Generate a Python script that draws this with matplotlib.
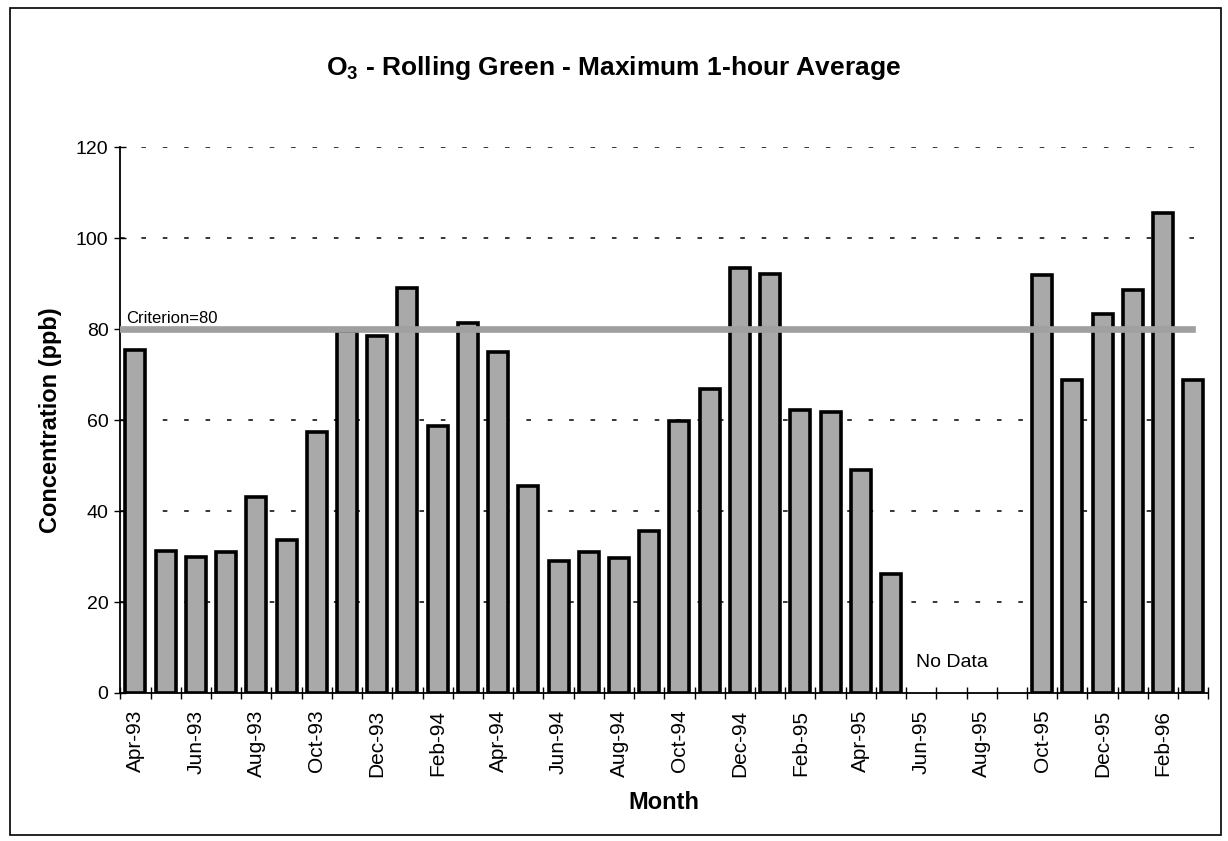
"""
O3 Rolling Green - monthly maximum 1-hour average bar chart.
"""
import matplotlib
matplotlib.use("Agg")
import matplotlib.pyplot as plt
import matplotlib.patches as mpatches
import numpy as np

plt.rcParams["font.family"] = ["Liberation Sans", "DejaVu Sans"]
plt.rcParams["mathtext.fontset"] = "custom"
plt.rcParams["mathtext.rm"] = "Liberation Sans:bold"
plt.rcParams["mathtext.bf"] = "Liberation Sans:bold"

# ── Data ───────────────────────────────────────────────────────────────────────
months = [
    "Apr-93", "May-93", "Jun-93", "Jul-93", "Aug-93", "Sep-93", "Oct-93",
    "Nov-93", "Dec-93", "Jan-94", "Feb-94", "Mar-94", "Apr-94", "May-94",
    "Jun-94", "Jul-94", "Aug-94", "Sep-94", "Oct-94", "Nov-94", "Dec-94",
    "Jan-95", "Feb-95", "Mar-95", "Apr-95", "May-95", "Jun-95", "Jul-95",
    "Aug-95", "Sep-95", "Oct-95", "Nov-95", "Dec-95", "Jan-96", "Feb-96",
    "Mar-96",
]
# NaN = no data (Jun-95 .. Sep-95)
o3_max = [
    75.4, 31.3, 30.0, 30.9, 43.1, 33.6, 57.4,
    79.5, 78.5, 89.1, 58.7, 81.4, 74.9, 45.6,
    29.0, 31.0, 29.6, 35.7, 59.8, 66.9, 93.5,
    92.1, 62.3, 61.8, 49.0, 26.1, np.nan, np.nan,
    np.nan, np.nan, 92.0, 68.8, 83.4, 88.7, 105.6,
    68.9,
]
criterion = 80
y_ticks = [0, 20, 40, 60, 80, 100, 120]

x = np.arange(len(months))
vals = np.array(o3_max, dtype=float)
has_data = ~np.isnan(vals)

# ── Figure ─────────────────────────────────────────────────────────────────────
fig = plt.figure(figsize=(12.28, 8.41), dpi=100)
ax = fig.add_axes([0.098, 0.176, 0.886, 0.649])

# dashed gridlines (behind bars)
for yv in y_ticks[1:]:
    ax.axhline(yv, color="black", linestyle=(0, (3, 11)),
               linewidth=1.1, zorder=1)

ax.bar(x[has_data], vals[has_data], width=0.66,
       color="#a9a9a9", edgecolor="black", linewidth=2.6, zorder=2)

# criterion line drawn over the bars
ax.axhline(criterion, xmin=0, xmax=0.985, color="#a0a0a0",
           linewidth=4.8, zorder=3)
ax.text(-0.3, criterion + 0.6, f"Criterion={criterion}", fontsize=12,
        ha="left", va="bottom", zorder=4)

ax.text(27.0, 6.6, "No Data", fontsize=14, ha="center", va="center")

ax.set_xlim(-0.5, len(months) - 0.5)
ax.set_ylim(0, 120)

ax.set_yticks(y_ticks)
ax.set_yticklabels([str(v) for v in y_ticks], fontsize=14)
ax.tick_params(axis="y", direction="inout", length=9, width=1, pad=4)

# month boundaries as minor ticks, labels every 2 months
ax.set_xticks(x[::2])
ax.set_xticklabels(months[::2], rotation=90, fontsize=15)
ax.tick_params(axis="x", which="major", length=0, pad=12)
ax.set_xticks(np.arange(-0.5, len(months), 1.0), minor=True)
ax.tick_params(axis="x", which="minor", direction="inout", length=8, width=1)

for side in ["top", "right"]:
    ax.spines[side].set_visible(False)
ax.spines["left"].set_linewidth(1.3)
ax.spines["bottom"].set_linewidth(1.3)

ax.set_xlabel("Month", fontsize=17, fontweight="bold", labelpad=10)
ax.set_ylabel("Concentration (ppb)", fontsize=17, fontweight="bold",
              labelpad=10)

fig.text(0.5, 0.919, r"O$_{3}$ - Rolling Green - Maximum 1-hour Average",
         fontsize=19, fontweight="bold", ha="center", va="center")

# outer frame around the chart
frame = mpatches.Rectangle((0.008, 0.007), 0.986, 0.984, fill=False,
                           edgecolor="black", linewidth=1.2,
                           transform=fig.transFigure)
fig.patches.append(frame)

plt.savefig("out.png", dpi=100)
plt.close()
